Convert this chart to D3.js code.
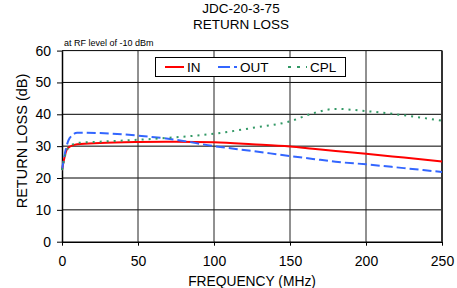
<!DOCTYPE html>
<html><head><meta charset="utf-8">
<script src="https://cdn.jsdelivr.net/npm/d3@7"></script>
<style>body{margin:0;background:#fff;} text{font-family:Arial,"Liberation Sans",sans-serif;fill:#000;}</style>
</head><body>
<svg id="c" width="457" height="288"></svg>
<script>
const freq = [0, 3, 5, 10, 25, 50, 75, 100, 125, 150, 165, 180, 200, 225, 250];
const inVals = [22.5, 28.8, 29.8, 30.6, 31.0, 31.3, 31.4, 31.2, 30.6, 29.9, 29.2, 28.5, 27.6, 26.4, 25.2];
const outVals = [22.5, 30.0, 32.5, 34.2, 34.1, 33.3, 32.0, 30.0, 28.5, 26.9, 26.0, 25.1, 24.3, 23.1, 21.9];
const cplVals = [22.5, 28.5, 29.8, 31.0, 31.4, 32.0, 32.8, 33.9, 35.7, 37.8, 40.3, 41.7, 41.0, 39.7, 38.0];
const seriesNames = ["IN", "OUT", "CPL"];
const xTicks = [0, 50, 100, 150, 200, 250];
const yTicks = [0, 10, 20, 30, 40, 50, 60];
const titleLines = ["JDC-20-3-75", "RETURN LOSS"];

const svg = d3.select("#c");
const x = d3.scaleLinear().domain([0, 250]).range([62, 442]);
const y = d3.scaleLinear().domain([0, 60]).range([241.7, 50.6]);

// gridlines
svg.append("g").selectAll("line.h").data(yTicks.filter(d => d > 0)).join("line")
  .attr("x1", x(0)).attr("x2", x(250)).attr("y1", d => y(d)).attr("y2", d => y(d))
  .attr("stroke", "#000").attr("stroke-width", 1);
svg.append("g").selectAll("line.v").data(xTicks.filter(d => d > 0 && d < 250)).join("line")
  .attr("y1", y(0)).attr("y2", y(60)).attr("x1", d => x(d)).attr("x2", d => x(d))
  .attr("stroke", "#222").attr("stroke-width", 1);
// right border
svg.append("line").attr("x1", x(250)).attr("x2", x(250)).attr("y1", y(0)).attr("y2", y(60))
  .attr("stroke", "#333").attr("stroke-width", 2);

// axes
const xAxis = d3.axisBottom(x).tickValues(xTicks).tickSize(4).tickSizeOuter(0).tickPadding(10);
const gx = svg.append("g").attr("transform", `translate(0,${y(0)})`).call(xAxis);
const yAxis = d3.axisLeft(y).tickValues(yTicks).tickSize(5).tickSizeOuter(0).tickPadding(6);
const gy = svg.append("g").attr("transform", `translate(${x(0)},0)`).call(yAxis);
[gx, gy].forEach(g => {
  g.selectAll("path").attr("stroke", "#000").attr("stroke-width", 1.5);
  g.selectAll("line").attr("stroke", "#000");
  g.selectAll("text").attr("font-size", 14).style("font-family", "Arial, 'Liberation Sans', sans-serif");
});

// series
const line = d3.line().x(d => x(d[0])).y(d => y(d[1])).curve(d3.curveMonotoneX);
const series = [
  {name: seriesNames[0], vals: inVals, color: "#ff0000", dash: null},
  {name: seriesNames[1], vals: outVals, color: "#3366ff", dash: "9,4"},
  {name: seriesNames[2], vals: cplVals, color: "#339966", dash: "2,5"}
];
series.forEach(s => {
  svg.append("path").datum(freq.map((f, i) => [f, s.vals[i]]))
    .attr("d", line).attr("fill", "none").attr("stroke", s.color)
    .attr("stroke-width", 2).attr("stroke-dasharray", s.dash);
});

// titles
titleLines.forEach((t, i) => {
  svg.append("text").attr("x", 241).attr("y", 13 + i * 16).attr("text-anchor", "middle")
    .attr("font-size", 13.5).text(t);
});
svg.append("text").attr("x", 64).attr("y", 46).attr("font-size", 9).text("at RF level of -10 dBm");
svg.append("text").attr("transform", "translate(27,141) rotate(-90)").attr("text-anchor", "middle")
  .attr("font-size", 14.5).text("RETURN LOSS (dB)");
svg.append("text").attr("x", 252).attr("y", 286).attr("text-anchor", "middle")
  .attr("font-size", 13.8).text("FREQUENCY (MHz)");

// legend
const lg = svg.append("g");
lg.append("rect").attr("x", 155.5).attr("y", 57.5).attr("width", 190).attr("height", 19)
  .attr("fill", "#fff").attr("stroke", "#000").attr("stroke-width", 1);
const legX = [165, 218, 288];
series.forEach((s, i) => {
  lg.append("line").attr("x1", legX[i]).attr("x2", legX[i] + 19).attr("y1", 67).attr("y2", 67)
    .attr("stroke", s.color).attr("stroke-width", 2).attr("stroke-dasharray", i === 1 ? "12,4" : (i === 2 ? "3,6" : null));
  lg.append("text").attr("x", legX[i] + 22).attr("y", 72).attr("font-size", 13.5).text(s.name);
});
</script>
</body></html>
